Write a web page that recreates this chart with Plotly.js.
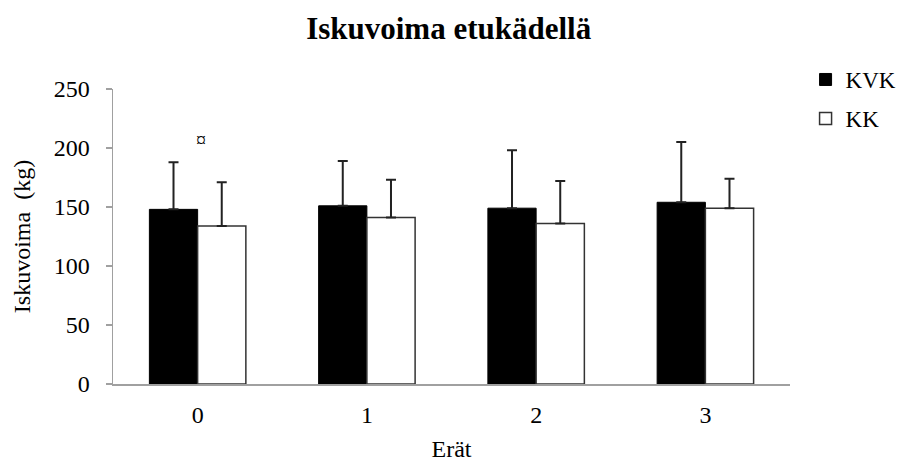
<!DOCTYPE html>
<html>
<head>
<meta charset="utf-8">
<script src="https://cdn.plot.ly/plotly-3.0.1.min.js"></script>
<style>html,body{margin:0;padding:0;background:#fff;}#chart{width:901px;height:466px;}</style>
</head>
<body>
<div id="chart"></div>
<script>
var categories = ['0', '1', '2', '3'];
var kvkValues = [148, 151, 149, 154];
var kvkErrors = [40, 38, 49, 51];
var kkValues = [134, 141, 136, 149];
var kkErrors = [37, 32, 36, 25];
var yTickValues = [0, 50, 100, 150, 200, 250];
var markCategory = '0';
var markValue = 207;
var markText = '¤';

var serif = "'Liberation Serif', serif";
var zeros = kvkValues.map(function(){ return 0; });

var traces = [
  {
    type: 'bar', name: 'KVK', x: categories, y: kvkValues, legendgroup: 'a',
    marker: {color: '#000000', line: {color: '#000000', width: 1}},
    error_y: {type: 'data', symmetric: false, array: kvkErrors, arrayminus: zeros,
              color: '#222222', thickness: 2, width: 5}
  },
  {
    type: 'bar', name: 'KK', x: categories, y: kkValues, legendgroup: 'b',
    marker: {color: '#ffffff', line: {color: '#333333', width: 1.5}},
    error_y: {type: 'data', symmetric: false, array: kkErrors, arrayminus: zeros,
              color: '#222222', thickness: 2, width: 5}
  }
];

var layout = {
  width: 901, height: 466,
  margin: {l: 113, r: 111, t: 89, b: 82, autoexpand: false},
  paper_bgcolor: '#ffffff', plot_bgcolor: '#ffffff',
  font: {family: serif, color: '#000000', size: 23},
  title: {text: '<b>Iskuvoima etukädellä</b>', font: {family: serif, size: 31, color: '#000'},
          x: 0.498, xanchor: 'center', y: 0.94, yanchor: 'middle'},
  barmode: 'group', bargap: 0.43, bargroupgap: 0,
  showlegend: true,
  legend: {x: 1.023, xanchor: 'left', y: 1.105, yanchor: 'top',
           font: {family: serif, size: 23, color: '#000'}, tracegroupgap: 6,
           traceorder: 'grouped', itemwidth: 30, bgcolor: 'rgba(0,0,0,0)'},
  xaxis: {
    type: 'category', showline: true, linecolor: '#a0a0a0', linewidth: 1.5,
    ticks: '', showgrid: false, zeroline: false, ticklabelstandoff: 9,
    tickfont: {family: serif, size: 24, color: '#000'},
    title: {text: 'Erät', font: {family: serif, size: 24, color: '#000'}, standoff: 13}
  },
  yaxis: {
    range: [0, 250], tickvals: yTickValues, showline: true, linecolor: '#a0a0a0', linewidth: 1.5,
    ticks: 'outside', ticklen: 6, tickcolor: '#a0a0a0', tickwidth: 1.5,
    showgrid: false, zeroline: false, ticklabelstandoff: 11,
    tickfont: {family: serif, size: 24, color: '#000'},
    title: {text: 'Iskuvoima  (kg)', font: {family: serif, size: 24, color: '#000'}, standoff: 16}
  },
  annotations: [{
    x: markCategory, y: markValue, xref: 'x', yref: 'y', text: markText, showarrow: false,
    xshift: 3, font: {family: serif, size: 20, color: '#000'}
  }]
};

Plotly.newPlot('chart', traces, layout, {displayModeBar: false, staticPlot: true});
</script>
</body>
</html>
